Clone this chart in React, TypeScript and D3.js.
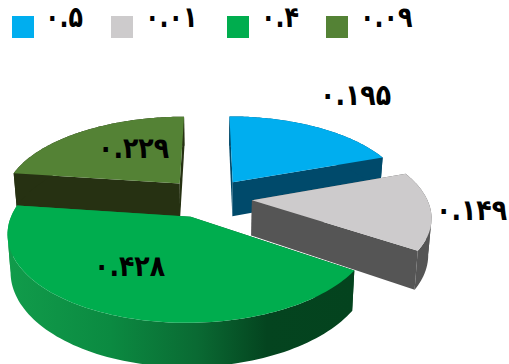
import React from "react";
import * as d3 from "d3";

// Slice shares, clockwise from twelve o'clock
const sliceValues = [0.195, 0.149, 0.428, 0.229];
const legendValues = [0.5, 0.01, 0.4, 0.09];
const topColors = ["#00AEEF", "#CDCBCC", "#00AD4E", "#548235"];
const wallColors = ["#004A6B", "#555555", "url(#greenWall)", "#263112"];

const WIDTH = 509;
const HEIGHT = 364;

// Tilted disc with mild perspective
const CX = 210;
const CY = 197;
const RX = 177;
const RY = 82.6;
const PERSPECTIVE = 0.173;
const EXPLODE = 0.225;
const DEPTH = 35;
const FLOOR_SHRINK = 0.985;
// Small per-slice corrections on the disc, on top of the radial explosion
const sliceShift: [number, number][] = [
  [0.003, 0],
  [0.012, 0.012],
  [-0.025, 0.02],
  [-0.028, 0],
];
const sliceRadius = [0.99, 0.985, 0.975, 1];

const FONT = "'DejaVu Sans', sans-serif";
const LABEL_SQUEEZE = 0.87;
const LEGEND_SQUEEZE = 0.82;
const legendX = [12, 111, 227, 326];
const legendTextX = [45, 145, 261, 360];
const labelPos: [number, number][] = [
  [320, 105],
  [436, 220],
  [94, 276],
  [98, 158],
];

const persianDigits = "۰۱۲۳۴۵۶۷۸۹";
const toPersian = (v: number) =>
  String(v).replace(/\d/g, (d) => persianDigits[+d]);

type Pt = [number, number];

function project(u: number, v: number, floor: boolean): Pt {
  const s = 1 / (1 - PERSPECTIVE * v);
  const shrink = floor ? FLOOR_SHRINK : 1;
  const x = CX + RX * u * s * shrink;
  const y = CY + RY * v * s + (floor ? DEPTH * s : 0);
  return [x, y];
}

const pieLayout = d3.pie<number>().sort(null).startAngle(0).endAngle(2 * Math.PI);
const arcs = pieLayout(sliceValues);
const outline = d3.line<Pt>();

// One closed face between a run of disc points on the top and on the floor
function ribbon(run: Pt[]): string {
  const upper = run.map((p) => project(p[0], p[1], false));
  const lower = run.map((p) => project(p[0], p[1], true)).reverse();
  return outline([...upper, ...lower])! + "Z";
}

type Slice = { top: string; walls: string[]; fill: string; wall: string };

function buildSlice(a: d3.PieArcDatum<number>, i: number): Slice {
  const mid = (a.startAngle + a.endAngle) / 2;
  const ox = EXPLODE * Math.sin(mid) + sliceShift[i][0];
  const oy = -EXPLODE * Math.cos(mid) + sliceShift[i][1];
  const r = sliceRadius[i];
  const angle = d3.scaleLinear().domain([0, 96]).range([a.startAngle, a.endAngle]);
  const rim = d3.range(0, 97).map(
    (k) => [ox + r * Math.sin(angle(k)), oy - r * Math.cos(angle(k))] as Pt
  );

  // The curved wall is cut wherever it turns back horizontally, so no part folds over itself
  const runs: Pt[][] = [[rim[0]]];
  let heading = 0;
  rim.slice(1).forEach((p, k) => {
    const dx = project(p[0], p[1], false)[0] - project(rim[k][0], rim[k][1], false)[0];
    const sign = Math.sign(dx);
    if (heading !== 0 && sign !== 0 && sign !== heading) runs.push([rim[k]]);
    if (sign !== 0) heading = sign;
    runs[runs.length - 1].push(p);
  });

  const apex: Pt = [ox, oy];
  const walls = [
    ribbon([apex, rim[0]]),
    ribbon([rim[rim.length - 1], apex]),
    ...runs.map(ribbon),
  ];
  const top = outline([apex, ...rim, apex].map((p) => project(p[0], p[1], false)))! + "Z";
  return { top, walls, fill: topColors[i], wall: wallColors[i] };
}

// Far slices are painted first so the near ones overlap them
const paintOrder = [0, 3, 1, 2];
const slices = arcs.map(buildSlice);

export default function App() {
  return (
    <svg
      width={WIDTH}
      height={HEIGHT}
      viewBox={`0 0 ${WIDTH} ${HEIGHT}`}
      style={{ position: "absolute", left: 0, top: 0, background: "#fff" }}
    >
      <defs>
        <linearGradient id="greenWall" gradientUnits="userSpaceOnUse" x1="6" x2="354" y1="0" y2="0">
          <stop offset="0" stopColor="#119C4B" />
          <stop offset="0.3" stopColor="#0B8A41" />
          <stop offset="0.55" stopColor="#0A6A33" />
          <stop offset="0.75" stopColor="#04441F" />
          <stop offset="1" stopColor="#04431E" />
        </linearGradient>
      </defs>

      {paintOrder.map((i) => {
        const s = slices[i];
        return (
          <g key={i}>
            {s.walls.map((d, k) => (
              <path key={k} d={d} fill={s.wall} />
            ))}
            <path d={s.top} fill={s.fill} />
          </g>
        );
      })}

      {sliceValues.map((v, i) => (
        <text
          key={i}
          transform={`translate(${labelPos[i][0]},${labelPos[i][1]}) scale(${LABEL_SQUEEZE},1)`}
          direction="ltr"
          fontFamily={FONT}
          fontWeight="bold"
          fontSize={29}
          fill="#000"
        >
          {toPersian(v)}
        </text>
      ))}

      {legendValues.map((v, i) => (
        <g key={i}>
          <rect x={legendX[i]} y={16} width={22} height={22} fill={topColors[i]} />
          <text
            transform={`translate(${legendTextX[i]},27) scale(${LEGEND_SQUEEZE},1)`}
            direction="ltr"
            fontFamily={FONT}
            fontWeight="bold"
            fontSize={29}
            fill="#000"
          >
            {toPersian(v)}
          </text>
        </g>
      ))}
    </svg>
  );
}
